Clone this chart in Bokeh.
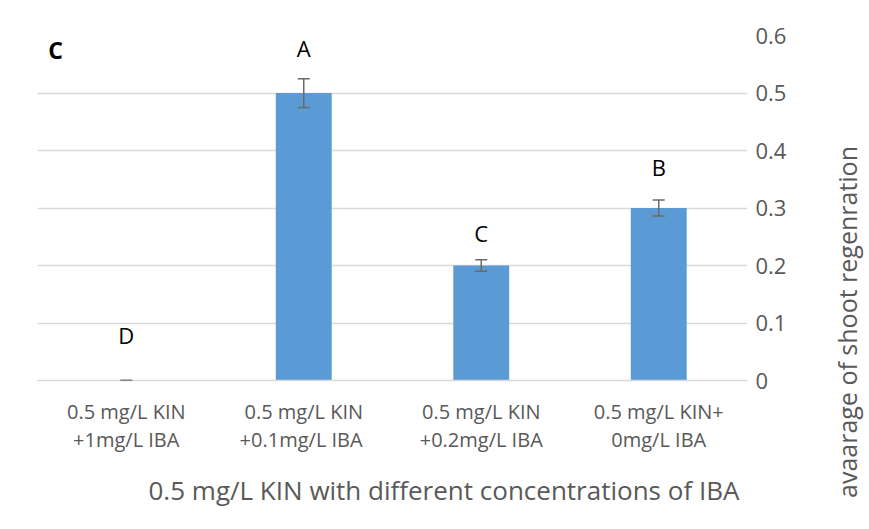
from bokeh.plotting import figure
from bokeh.layouts import row
from bokeh.models import (ColumnDataSource, Whisker, TeeHead, FixedTicker, Label, Range1d,
                          LinearAxis, Title, Div)
from bokeh.core.properties import value
from bokeh.embed import file_html
from bokeh.resources import INLINE

categories = ["0.5 mg/L KIN +1mg/L IBA", "0.5 mg/L KIN +0.1mg/L  IBA",
              "0.5 mg/L KIN +0.2mg/L IBA", "0.5 mg/L KIN+ 0mg/L IBA"]
cat_line1 = ["0.5 mg/L KIN", "0.5 mg/L KIN", "0.5 mg/L KIN", "0.5 mg/L KIN+"]
cat_line2 = ["+1mg/L IBA", "+0.1mg/L  IBA", "+0.2mg/L IBA", "0mg/L IBA"]
values = [0.0, 0.5, 0.2, 0.3]
errors = [0.0, 0.025, 0.01, 0.014]
letters = ["D", "A", "C", "B"]
letter_y = [0.08, 0.579, 0.257, 0.372]
y_ticks = [0, 0.1, 0.2, 0.3, 0.4, 0.5, 0.6]
y_tick_labels = ["0", "0.1", "0.2", "0.3", "0.4", "0.5", "0.6"]
y_title = "avaarage of shoot regenration"
x_title = "0.5 mg/L KIN with different concentrations of IBA"
panel_tag = "C"

FONT = "Open Sans"
GRAY = "#595959"
GRID = "#D9D9D9"
ERR = "#6A6A6A"

# category slots: one unit per category, bar in the middle of each slot
xpos = [i + 0.5 for i in range(len(categories))]

src = ColumnDataSource(dict(
    x=xpos, top=values,
    upper=[v + e for v, e in zip(values, errors)],
    lower=[v - e for v, e in zip(values, errors)],
    letter=letters, ly=letter_y,
))

p = figure(x_range=Range1d(0, len(categories)), y_range=Range1d(0, 0.6), width=820, height=521,
           output_backend="svg", toolbar_location=None, y_axis_location="right",
           x_axis_location=None,
           min_border_left=37, min_border_top=35, min_border_right=73, min_border_bottom=141)

p.vbar(x="x", top="top", width=0.315, source=src, fill_color="#5B9BD5", line_color=None)

w = Whisker(base="x", upper="upper", lower="lower", source=src, level="overlay",
            line_color=ERR, line_width=1.5,
            upper_head=TeeHead(size=12, line_color=ERR, line_width=1.5),
            lower_head=TeeHead(size=12, line_color=ERR, line_width=1.5))
p.add_layout(w)

p.text(x="x", y="ly", text="letter", source=src, text_align="center",
       text_baseline="middle", text_font_size="22px", text_color="black",
       text_font=value(FONT))

p.add_layout(Label(x=0.06, y=0.574, text=panel_tag, text_font_size="23px",
                   text_font_style="bold", text_font=FONT, text_baseline="middle",
                   text_color="black"))

p.outline_line_color = None
p.xgrid.grid_line_color = None
p.ygrid.grid_line_color = GRID
p.ygrid.grid_line_width = 1.5
p.ygrid.ticker = FixedTicker(ticks=y_ticks)

ya = p.yaxis[0]
ya.ticker = FixedTicker(ticks=y_ticks)
ya.major_label_overrides = {t: l for t, l in zip(y_ticks, y_tick_labels)}
ya.major_tick_line_color = None
ya.major_tick_out = 0
ya.major_tick_in = 0
ya.minor_tick_line_color = None
ya.axis_line_color = None
ya.major_label_text_font = FONT
ya.major_label_text_font_size = "22px"
ya.major_label_text_color = GRAY
ya.major_label_standoff = 8

def label_axis(labels, standoff):
    ax = LinearAxis(ticker=FixedTicker(ticks=xpos))
    ax.major_tick_line_color = None
    ax.minor_tick_line_color = None
    ax.major_label_text_font = FONT
    ax.major_label_text_font_size = "20px"
    ax.major_label_text_color = GRAY
    ax.major_label_standoff = standoff
    ax.major_label_overrides = {t: l for t, l in zip(xpos, labels)}
    return ax

xa1 = label_axis(cat_line1, 11)
xa1.axis_line_color = GRID
xa1.axis_line_width = 1.5
p.add_layout(xa1, "below")

xa2 = label_axis(cat_line2, -8)
xa2.axis_line_color = None
p.add_layout(xa2, "below")

t = Title(text=x_title, align="left", offset=111, text_font=FONT, text_font_size="26px",
          text_font_style="normal", text_color=GRAY, standoff=28)
p.add_layout(t, "below")

# rotated y-axis title (reads bottom to top) in a narrow HTML block to the right
title_html = (
    '<div style="position:relative;width:45px;height:521px;">'
    '<div style="position:absolute;left:22px;top:317px;'
    'transform:translate(-50%,-50%) rotate(-90deg);white-space:nowrap;'
    "font-family:'Open Sans';font-size:25px;line-height:1;color:" + GRAY + ';">'
    + y_title + '</div></div>'
)
ytitle_div = Div(text=title_html, width=45, height=521)

layout = row(p, ytitle_div, spacing=0)
open("out.html", "w").write(file_html(layout, INLINE))
